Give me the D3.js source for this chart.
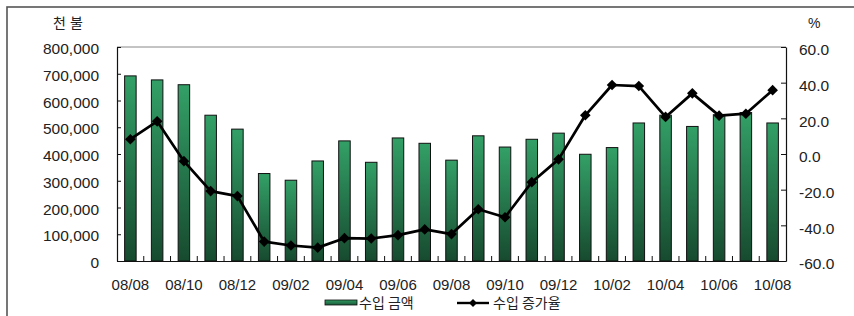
<!DOCTYPE html>
<html>
<head>
<meta charset="utf-8">
<script src="https://cdn.jsdelivr.net/npm/d3@7"></script>
<style>
  body { margin: 0; background: #fff; }
  .axis text { font-family: "Liberation Sans", Arial, sans-serif; font-size: 15.5px; fill: #222; }
  .kr { font-family: "Noto Sans CJK KR", sans-serif; font-size: 14px; fill: #222; }
</style>
</head>
<body>
<div class="chart"></div>
<script>
const months = ['08/08','08/09','08/10','08/11','08/12','09/01','09/02','09/03','09/04','09/05','09/06','09/07','09/08',
  '09/09','09/10','09/11','09/12','10/01','10/02','10/03','10/04','10/05','10/06','10/07','10/08'];
// 수입 금액 (천불)
const importAmount = [692000, 677000, 659000, 545000, 493000, 327000, 302000, 374000, 449000, 369000, 460000, 440000, 377000,
  468000, 426000, 455000, 478000, 399000, 424000, 516000, 545000, 503000, 547000, 555000, 516000];
// 수입 증가율 (%)
const importGrowth = [8.3, 18.3, -4.0, -20.8, -23.6, -49.1, -51.3, -52.5, -47.2, -47.4, -45.5, -42.3, -44.9,
  -31.0, -35.5, -15.8, -3.0, 21.7, 38.7, 38.1, 20.8, 34.0, 21.5, 22.6, 35.8];
const leftTicks = [0, 100000, 200000, 300000, 400000, 500000, 600000, 700000, 800000];
const rightTicks = [-60, -40, -20, 0, 20, 40, 60];
const xLabels = months.filter((d, i) => i % 2 === 0);

const W = 854, H = 316;
const plot = { left: 117, right: 786, top: 47, bottom: 261 };

const svg = d3.select('.chart').append('svg')
  .attr('width', W).attr('height', H);

const defs = svg.append('defs');
const grad = defs.append('linearGradient')
  .attr('id', 'barGrad')
  .attr('x1', 0).attr('y1', 0).attr('x2', 0).attr('y2', 1);
grad.append('stop').attr('offset', '0%').attr('stop-color', '#33a067');
grad.append('stop').attr('offset', '100%').attr('stop-color', '#174a2f');

const legGrad = defs.append('linearGradient')
  .attr('id', 'legGrad')
  .attr('x1', 0).attr('y1', 0).attr('x2', 0).attr('y2', 1);
legGrad.append('stop').attr('offset', '0%').attr('stop-color', '#2f9a62');
legGrad.append('stop').attr('offset', '100%').attr('stop-color', '#1b5a3a');

// outer border (right/bottom fall outside the picture)
svg.append('rect')
  .attr('x', 7).attr('y', 7).attr('width', W).attr('height', H)
  .attr('fill', 'none').attr('stroke', '#555').attr('stroke-width', 1.6);

const x = d3.scaleBand()
  .domain(months)
  .range([plot.left, plot.right])
  .paddingInner(0.57)
  .paddingOuter(0.285);

const yL = d3.scaleLinear().domain([0, 800000]).range([plot.bottom, plot.top]);
const yR = d3.scaleLinear().domain([-60, 60]).range([plot.bottom, plot.top]);

// plot area top edge
svg.append('line')
  .attr('x1', plot.left).attr('x2', plot.right)
  .attr('y1', plot.top).attr('y2', plot.top)
  .attr('stroke', '#888').attr('stroke-width', 1);

// bars
svg.selectAll('.bar')
  .data(months.map((m, i) => ({ m, v: importAmount[i] })))
  .enter().append('rect')
  .attr('class', 'bar')
  .attr('x', d => x(d.m))
  .attr('width', x.bandwidth())
  .attr('y', d => yL(d.v))
  .attr('height', d => plot.bottom - yL(d.v))
  .attr('fill', 'url(#barGrad)')
  .attr('stroke', '#111')
  .attr('stroke-width', 1);

// left axis
const leftAxis = svg.append('g')
  .attr('class', 'axis')
  .attr('transform', `translate(${plot.left},0)`)
  .call(d3.axisLeft(yL).tickValues(leftTicks).tickFormat(d3.format(','))
    .tickSizeInner(-4).tickSizeOuter(0).tickPadding(18));

// right axis
const rightAxis = svg.append('g')
  .attr('class', 'axis')
  .attr('transform', `translate(${plot.right},0)`)
  .call(d3.axisRight(yR).tickValues(rightTicks).tickFormat(d => d.toFixed(1))
    .tickSizeInner(-5).tickSizeOuter(0).tickPadding(13));

// bottom axis
const bottomAxis = svg.append('g')
  .attr('class', 'axis')
  .attr('transform', `translate(0,${plot.bottom})`)
  .call(d3.axisBottom(x).tickValues(xLabels).tickSize(0).tickPadding(18));

svg.selectAll('.axis .domain').attr('stroke', '#111').attr('stroke-width', 1.2);
svg.selectAll('.axis .tick line').attr('stroke', '#111');
leftAxis.selectAll('text').attr('dy', '0.42em');
rightAxis.selectAll('text').attr('dy', '0.5em');
bottomAxis.selectAll('text').style('font-size', '15px');

// category boundary ticks
const gap = (x.step() - x.bandwidth()) / 2;
svg.selectAll('.xtick')
  .data(months.slice(1))
  .enter().append('line')
  .attr('class', 'xtick')
  .attr('x1', d => x(d) - gap).attr('x2', d => x(d) - gap)
  .attr('y1', plot.bottom).attr('y2', plot.bottom - 5)
  .attr('stroke', '#111');

// growth line
const line = d3.line()
  .x((d, i) => x(months[i]) + x.bandwidth() / 2)
  .y(d => yR(d));

svg.append('path')
  .datum(importGrowth)
  .attr('d', line)
  .attr('fill', 'none')
  .attr('stroke', '#000')
  .attr('stroke-width', 2.7)
  .attr('stroke-linejoin', 'round');

const diamond = d3.symbol().type(d3.symbolDiamond2).size(72);
svg.selectAll('.pt')
  .data(importGrowth)
  .enter().append('path')
  .attr('class', 'pt')
  .attr('d', diamond)
  .attr('transform', (d, i) => `translate(${x(months[i]) + x.bandwidth() / 2},${yR(d)})`)
  .attr('fill', '#000');

// axis titles
svg.append('text')
  .attr('class', 'kr')
  .attr('x', 53).attr('y', 28)
  .attr('letter-spacing', '4px')
  .text('천불');

svg.append('text')
  .attr('x', 808).attr('y', 28)
  .attr('font-family', '"Liberation Sans", Arial, sans-serif')
  .attr('font-size', '14px')
  .attr('fill', '#222')
  .text('%');

// legend
const legY = 303;
svg.append('rect')
  .attr('x', 325).attr('y', legY - 3).attr('width', 32).attr('height', 5)
  .attr('fill', 'url(#legGrad)').attr('stroke', '#111').attr('stroke-width', 0.8);
svg.append('text')
  .attr('class', 'kr')
  .attr('x', 359).attr('y', legY)
  .attr('dy', '0.36em')
  .text('수입 금액');

svg.append('line')
  .attr('x1', 457).attr('x2', 489)
  .attr('y1', legY).attr('y2', legY)
  .attr('stroke', '#000').attr('stroke-width', 2.4);
svg.append('path')
  .attr('d', d3.symbol().type(d3.symbolDiamond2).size(40))
  .attr('transform', `translate(473,${legY})`)
  .attr('fill', '#000');
svg.append('text')
  .attr('class', 'kr')
  .attr('x', 493).attr('y', legY)
  .attr('dy', '0.36em')
  .text('수입 증가율');
</script>
</body>
</html>
